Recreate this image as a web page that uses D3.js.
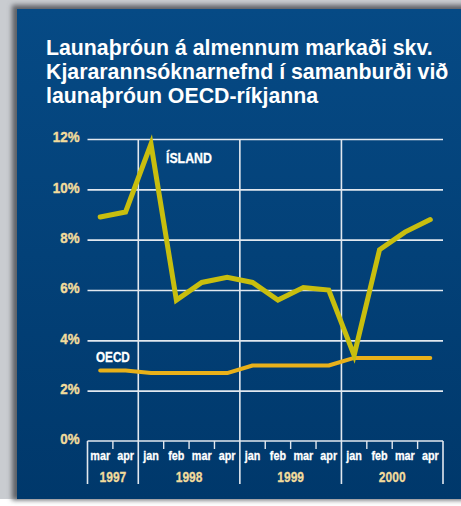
<!DOCTYPE html>
<html>
<head>
<meta charset="utf-8">
<script src="https://cdn.jsdelivr.net/npm/d3@7"></script>
<style>
  body { margin: 0; background: #fff; }
</style>
</head>
<body>
<div id="chart-area"></div>
<script>
const months = ['mar', 'apr', 'jan', 'feb', 'mar', 'apr', 'jan', 'feb', 'mar', 'apr', 'jan', 'feb', 'mar', 'apr'];
const years = ['1997', '1998', '1999', '2000'];
const yearSpans = [2, 4, 4, 4];
const island = [8.9, 9.1, 11.8, 5.6, 6.3, 6.5, 6.3, 5.6, 6.1, 6.0, 3.4, 7.6, 8.3, 8.8];
const oecd = [2.8, 2.8, 2.7, 2.7, 2.7, 2.7, 3.0, 3.0, 3.0, 3.0, 3.3, 3.3, 3.3, 3.3];
const yTicks = [0, 2, 4, 6, 8, 10, 12];
const titleLines = ['Launaþróun á almennum markaði skv.', 'Kjararannsóknarnefnd í samanburði við', 'launaþróun OECD-ríkjanna'];

const W = 461, H = 506;
const svg = d3.select('#chart-area').append('svg')
    .attr('width', W)
    .attr('height', H);

const defs = svg.append('defs');
const grad = defs.append('linearGradient').attr('id', 'bg').attr('x1', 0).attr('y1', 0).attr('x2', 0).attr('y2', 1);
grad.append('stop').attr('offset', '0%').attr('stop-color', '#064a85');
grad.append('stop').attr('offset', '100%').attr('stop-color', '#00386b');
const blur = defs.append('filter').attr('id', 'shadow').attr('x', -0.1).attr('y', -0.1).attr('width', 1.2).attr('height', 1.2);
blur.append('feGaussianBlur').attr('stdDeviation', 2.5);

// frame and panel
svg.append('rect').attr('x', 0).attr('y', 0).attr('width', W).attr('height', 499).attr('fill', '#c9ccd0');
svg.append('rect').attr('x', 12).attr('y', 5).attr('width', W).attr('height', 495)
    .attr('fill', '#5e6166').attr('filter', 'url(#shadow)');
svg.append('rect').attr('x', 17).attr('y', 9).attr('width', W - 17).attr('height', 490).attr('fill', 'url(#bg)');

// squeeze text horizontally, the source uses a condensed face
function condense(sel, k) {
    sel.each(function () {
        const w = this.getComputedTextLength();
        d3.select(this).attr('textLength', w * k).attr('lengthAdjust', 'spacingAndGlyphs');
    });
}

// title
svg.append('text')
    .attr('x', 46).attr('y', 55)
    .attr('fill', '#fff')
    .style('font-family', '"Liberation Sans", Arial, sans-serif')
    .style('font-weight', 'bold')
    .style('font-size', '21.3px')
    .selectAll('tspan')
    .data(titleLines)
    .join('tspan')
    .attr('x', 46)
    .attr('dy', (d, i) => i === 0 ? 0 : 24)
    .text(d => d);

const plotL = 87.5, plotR = 443, plotT = 139, plotB = 441;
const x = d3.scaleBand().domain(d3.range(months.length)).range([plotL, plotR]);
const y = d3.scaleLinear().domain([0, 12]).range([plotB, plotT]);

const font = '"Liberation Sans", Arial, sans-serif';
const gridColor = '#e2e8ef';
const cream = '#f2dc9c';

// horizontal grid
const g = svg.append('g');
g.append('g')
    .attr('transform', `translate(${plotL},0)`)
    .call(d3.axisLeft(y).tickValues(yTicks.slice(1)).tickSize(-(plotR - plotL)).tickFormat(''))
    .call(s => s.select('.domain').remove())
    .call(s => s.selectAll('line').attr('stroke', gridColor).attr('stroke-width', 1.6));

// y labels
g.append('g')
    .attr('transform', `translate(${plotL - 5},0)`)
    .call(d3.axisLeft(y).tickValues(yTicks).tickSize(0).tickFormat(d => d + '%'))
    .call(s => s.select('.domain').remove())
    .call(s => s.selectAll('text')
        .attr('fill', cream)
        .attr('stroke', cream)
        .attr('stroke-width', 0.4)
        .attr('dy', '0.2em')
        .style('font-family', font)
        .style('font-weight', 'bold')
        .style('font-size', '14.5px')
        .call(condense, 0.92));

// year boundaries
let idx = 0;
const bounds = [0];
yearSpans.forEach(n => { idx += n; bounds.push(idx); });
const bx = i => i < months.length ? x(i) : plotR;

g.selectAll('.vgrid')
    .data(bounds)
    .join('line')
    .attr('x1', d => bx(d)).attr('x2', d => bx(d))
    .attr('y1', d => (d === 0 || d === months.length) ? plotB : plotT)
    .attr('y2', 484)
    .attr('stroke', gridColor).attr('stroke-width', 1.6);

// x axis line + month ticks
g.append('line')
    .attr('x1', plotL).attr('x2', plotR).attr('y1', plotB).attr('y2', plotB)
    .attr('stroke', gridColor).attr('stroke-width', 1.6);
g.selectAll('.mtick')
    .data(d3.range(1, months.length).filter(i => !bounds.includes(i)))
    .join('line')
    .attr('x1', d => x(d)).attr('x2', d => x(d))
    .attr('y1', plotB).attr('y2', plotB + 8)
    .attr('stroke', gridColor).attr('stroke-width', 1.4);

g.selectAll('.mlabel')
    .data(months)
    .join('text')
    .attr('x', (d, i) => x(i) + x.bandwidth() / 2)
    .attr('y', 459.5)
    .attr('text-anchor', 'middle')
    .attr('fill', '#fff')
    .attr('stroke', '#fff')
    .attr('stroke-width', 0.3)
    .style('font-family', font)
    .style('font-weight', 'bold')
    .style('font-size', '13.5px')
    .text(d => d)
    .call(condense, 0.8);

g.selectAll('.ylabel')
    .data(years)
    .join('text')
    .attr('x', (d, i) => (bx(bounds[i]) + bx(bounds[i + 1])) / 2)
    .attr('y', 481.5)
    .attr('text-anchor', 'middle')
    .attr('fill', cream)
    .attr('stroke', cream)
    .attr('stroke-width', 0.3)
    .style('font-family', font)
    .style('font-weight', 'bold')
    .style('font-size', '15px')
    .text(d => d)
    .call(condense, 0.8);

// lines
const line = d3.line()
    .x((d, i) => x(i) + x.bandwidth() / 2)
    .y(d => y(d));

g.append('path')
    .datum(oecd)
    .attr('d', line)
    .attr('fill', 'none')
    .attr('stroke', '#e9b11a')
    .attr('stroke-width', 4)
    .attr('stroke-linecap', 'round')
    .attr('stroke-linejoin', 'round');

g.append('path')
    .datum(island)
    .attr('d', line)
    .attr('fill', 'none')
    .attr('stroke', '#c8be0e')
    .attr('stroke-width', 5)
    .attr('stroke-linecap', 'round')
    .attr('stroke-linejoin', 'miter');

// series labels
g.append('text')
    .attr('x', 166).attr('y', 163)
    .attr('fill', '#fff')
    .attr('stroke', '#fff')
    .attr('stroke-width', 0.3)
    .style('font-family', font)
    .style('font-weight', 'bold')
    .style('font-size', '15px')
    .text('ÍSLAND')
    .call(condense, 0.82);
g.append('text')
    .attr('x', 96).attr('y', 362)
    .attr('fill', '#fff')
    .attr('stroke', '#fff')
    .attr('stroke-width', 0.3)
    .style('font-family', font)
    .style('font-weight', 'bold')
    .style('font-size', '15px')
    .text('OECD')
    .call(condense, 0.78);
</script>
</body>
</html>
